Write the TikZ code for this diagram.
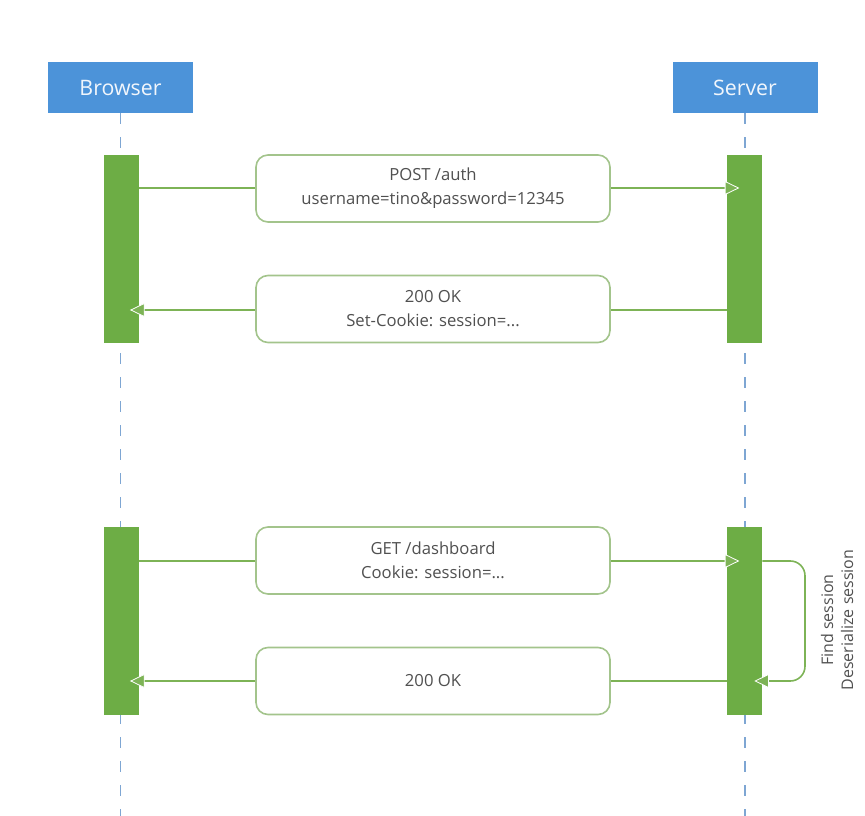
\documentclass[tikz,border=0pt]{standalone}
\usepackage{fontspec}
\setmainfont{Open Sans}
\usetikzlibrary{arrows.meta,calc}
\definecolor{hdrblue}{HTML}{4C93D9}
\definecolor{barg}{HTML}{6DAD45}
\definecolor{lineg}{HTML}{7DB356}
\definecolor{boxg}{HTML}{A3C48C}
\definecolor{txtc}{HTML}{505050}
\definecolor{lifec}{HTML}{7EA6D3}
\begin{document}
\begin{tikzpicture}[x=0.75pt,y=-0.75pt,
  hdr/.style={fill=hdrblue, minimum width=108.75pt, minimum height=38.25pt, inner sep=0pt,
    text=white!92!hdrblue, font=\fontsize{16}{18}\selectfont},
  actbar/.style={fill=barg, minimum width=26.25pt, minimum height=141pt, inner sep=0pt},
  msgbox/.style={draw=boxg, line width=1.2pt, fill=white, rounded corners=9pt,
    minimum width=265.5pt, minimum height=50.25pt, inner sep=0pt, align=center,
    text=txtc, font=\fontsize{12.5}{18}\selectfont},
  msg/.style={draw=lineg, line width=1.2pt,
    -{Triangle[length=11pt,width=10.5pt,fill=lineg,color=white,line width=0.6pt]}},
  life/.style={draw=lifec, line width=0.9pt, dash pattern=on 8pt off 10pt}
]
\useasboundingbox (0,0) rectangle (865,816);
% headers
\node[hdr] (br) at (120.5,87.5) {Browser};
\node[hdr] (sv) at (745,87.5) {Server};
% lifelines
\coordinate (bend) at (120.5,816);
\coordinate (send) at (745,816);
\draw[life] (br.south) -- (bend);
\draw[life] (sv.south) -- (send);
% activation bars
\node[actbar] (b1) at (121.5,249) {};
\node[actbar] (s1) at (744.5,249) {};
\node[actbar] (b2) at (121.5,621.5) {};
\node[actbar] (s2) at (744.5,621.5) {};
% message rows
\coordinate (y1) at (0,188);
\coordinate (y2) at (0,310);
\coordinate (y3) at (0,561);
\coordinate (y4) at (0,681);
\coordinate (lx) at (805,0);
\draw[msg, shorten >=-9.5pt] (b1.east |- y1) -- (s1.west |- y1);
\draw[msg, shorten >=-7pt] (s1.west |- y2) -- (b1.east |- y2);
\draw[msg, shorten >=-9.5pt] (b2.east |- y3) -- (s2.west |- y3);
\draw[msg, shorten >=-7pt] (s2.west |- y4) -- (b2.east |- y4);
\draw[msg, rounded corners=11pt, shorten >=-6pt] (s2.east |- y3) -- (lx |- y3) -- (lx |- y4) -- (s2.east |- y4);
% message boxes
\node[msgbox] (m1) at (433,188.5) {POST /auth\\username=tino\&password=12345};
\node[msgbox] (m2) at (433,309) {200 OK\\Set-Cookie: session=...};
\node[msgbox] (m3) at (433,560.5) {GET /dashboard\\Cookie: session=...};
\node[msgbox] (m4) at (433,681) {200 OK};
% self-call label
\node[rotate=90, align=center, text=txtc, font=\fontsize{12}{15}\selectfont] (lbl) at (837,620) {Find session\\Deserialize session};
\end{tikzpicture}
\end{document}
